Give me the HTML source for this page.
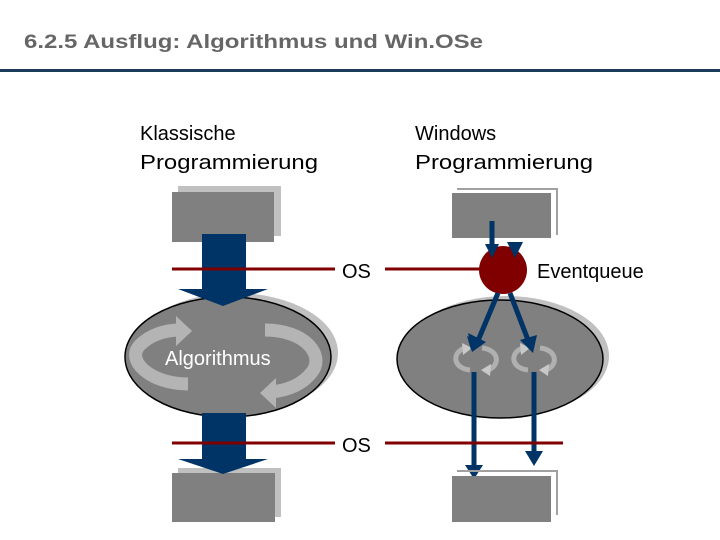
<!DOCTYPE html>
<html><head><meta charset="utf-8"><style>
html,body{margin:0;padding:0;background:#fff;}
svg{display:block;}
text{font-family:"Liberation Sans",Arial,sans-serif;}
</style></head><body>
<svg width="720" height="540" viewBox="0 0 720 540" xmlns="http://www.w3.org/2000/svg">
<defs>
<marker id="ah" viewBox="0 0 10 10" refX="5" refY="8" markerWidth="4" markerHeight="4" orient="auto-start-reverse"></marker>
</defs>
<text x="24" y="48" font-size="19" font-weight="bold" fill="#666" textLength="459" lengthAdjust="spacingAndGlyphs">6.2.5  Ausflug: Algorithmus und Win.OSe</text>
<rect x="0" y="69" width="720" height="3" fill="#1c3a5a"/>

<text x="140" y="140" font-size="20" fill="#000">Klassische</text>
<text x="140" y="169" font-size="20" fill="#000" textLength="178" lengthAdjust="spacingAndGlyphs">Programmierung</text>
<text x="415" y="140" font-size="20" fill="#000">Windows</text>
<text x="415" y="169" font-size="20" fill="#000" textLength="178" lengthAdjust="spacingAndGlyphs">Programmierung</text>

<!-- left top box -->
<rect x="178" y="186" width="103" height="50" fill="#c0c0c0"/>
<rect x="172" y="192" width="102" height="50" fill="#808080"/>
<!-- left ellipse -->
<ellipse cx="235" cy="353" rx="103" ry="60" fill="#c0c0c0"/>
<ellipse cx="228" cy="357" rx="103" ry="60" fill="#808080" stroke="#000" stroke-width="1.5"/>
<!-- algorithm arrows -->
<path d="M188,384 C150,384 125,360 140,345 C150,335 165,330 180,330" fill="none" stroke="#b4b4b4" stroke-width="13"/>
<polygon points="176,316 192,331 176,346" fill="#b4b4b4"/>
<path d="M265,330 C305,330 325,355 312,372 C302,385 288,390 272,392" fill="none" stroke="#b4b4b4" stroke-width="13"/>
<polygon points="276,378 260,393 276,408" fill="#b4b4b4"/>
<text x="165" y="365" font-size="20" fill="#fff">Algorithmus</text>
<!-- left top arrow -->
<rect x="202" y="234" width="44" height="57" fill="#003366"/>
<polygon points="178,289 268,289 223,306" fill="#003366"/>
<line x1="172" y1="269" x2="335" y2="269" stroke="#800000" stroke-width="3"/>
<text x="342" y="278" font-size="20" fill="#000">OS</text>
<!-- left bottom -->
<rect x="178" y="468" width="103" height="49" fill="#c0c0c0"/>
<rect x="172" y="473" width="103" height="49" fill="#808080"/>
<rect x="202" y="413" width="44" height="47" fill="#003366"/>
<polygon points="178,459 268,459 223,474" fill="#003366"/>
<line x1="172" y1="443" x2="335" y2="443" stroke="#800000" stroke-width="3"/>
<text x="342" y="452" font-size="20" fill="#000">OS</text>

<!-- right top box -->
<polyline points="457,189 557,189 557,235" fill="none" stroke="#a0a0a0" stroke-width="2"/>
<rect x="452" y="193" width="99" height="45" fill="#808080"/>
<!-- right ellipse -->
<ellipse cx="506" cy="356" rx="103" ry="60" fill="#c0c0c0"/>
<ellipse cx="500" cy="359" rx="103" ry="59" fill="#808080" stroke="#000" stroke-width="1.5"/>
<!-- small loops -->
<g fill="none" stroke="#b0b0b0" stroke-width="5">
<path d="M470,370 C452,368 452,352 465,348"/>
<path d="M482,348 C500,350 500,366 488,370"/>
<path d="M528,370 C510,368 510,352 523,348"/>
<path d="M540,348 C558,350 558,366 546,370"/>
</g>
<g fill="#c8c8c8">
<polygon points="462,343 472,348 463,355"/>
<polygon points="491,364 481,370 490,376"/>
<polygon points="520,343 530,348 521,355"/>
<polygon points="549,364 539,370 548,376"/>
</g>
<!-- red line & circle -->
<line x1="385" y1="269" x2="482" y2="269" stroke="#800000" stroke-width="3"/>
<circle cx="503" cy="270" r="24" fill="#800000"/>
<text x="537" y="278" font-size="20" fill="#000">Eventqueue</text>
<!-- incoming arrows -->
<line x1="492" y1="221" x2="492" y2="245" stroke="#003366" stroke-width="5"/>
<polygon points="485,244 499,244 492,258" fill="#003366"/>
<polygon points="507,242 523,242 515,258" fill="#003366"/>
<!-- outgoing diagonals -->
<line x1="498" y1="293" x2="477" y2="343" stroke="#003366" stroke-width="5"/>
<polygon points="467,336 484,343 471,350 " fill="#003366"/>
<polygon points="468,333 486,342 472,352" fill="#003366"/>
<line x1="510" y1="293" x2="528" y2="340" stroke="#003366" stroke-width="5"/>
<polygon points="520,340 537,335 533,353" fill="#003366"/>
<!-- down arrows -->
<line x1="474" y1="372" x2="474" y2="466" stroke="#003366" stroke-width="5"/>
<polygon points="465,465 483,465 474,479" fill="#003366"/>
<line x1="534" y1="372" x2="534" y2="452" stroke="#003366" stroke-width="5"/>
<polygon points="525,451 543,451 534,466" fill="#003366"/>
<line x1="385" y1="443" x2="563" y2="443" stroke="#800000" stroke-width="3"/>
<!-- right bottom box -->
<polyline points="457,471 557,471 557,515" fill="none" stroke="#a0a0a0" stroke-width="2"/>
<rect x="452" y="476" width="99" height="46" fill="#808080"/>
<line x1="474" y1="470" x2="474" y2="476" stroke="#003366" stroke-width="0"/>
</svg>
</body></html>
